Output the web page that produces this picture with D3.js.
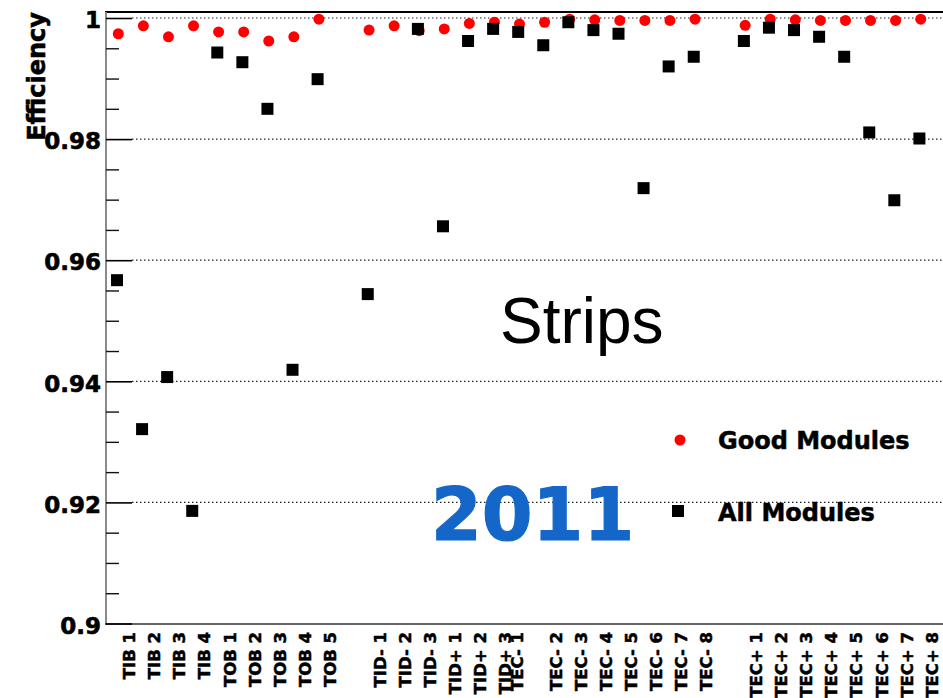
<!DOCTYPE html>
<html>
<head>
<meta charset="utf-8">
<script src="https://cdn.jsdelivr.net/npm/d3@7"></script>
<style>
  html, body { margin: 0; padding: 0; background: #fff; }
  svg { display: block; }
</style>
</head>
<body>
<svg id="chart" width="943" height="698"></svg>
<script>
// Bin labels (null marks an empty separator bin)
const categories = [
  "TIB 1", "TIB 2", "TIB 3", "TIB 4",
  "TOB 1", "TOB 2", "TOB 3", "TOB 4", "TOB 5",
  null,
  "TID- 1", "TID- 2", "TID- 3", "TID+ 1", "TID+ 2", "TID+ 3",
  "TEC- 1", "TEC- 2", "TEC- 3", "TEC- 4", "TEC- 5", "TEC- 6", "TEC- 7", "TEC- 8",
  null,
  "TEC+ 1", "TEC+ 2", "TEC+ 3", "TEC+ 4", "TEC+ 5", "TEC+ 6", "TEC+ 7", "TEC+ 8"
];

// Where each bin label sits along the axis (bin units); TEC- 1 is drawn shifted left
const labelSlots = [
  0, 1, 2, 3,
  4, 5, 6, 7, 8,
  null,
  10, 11, 12, 13, 14, 15,
  15.45, 17, 18, 19, 20, 21, 22, 23,
  null,
  25, 26, 27, 28, 29, 30, 31, 32
];

// Hit efficiency per layer, good modules only
const goodModules = [
  0.9974, 0.9987, 0.9969, 0.9987,
  0.9977, 0.9977, 0.9962, 0.9969, 0.9998,
  null,
  0.9980, 0.9987, 0.9979, 0.9982, 0.9991, 0.9993,
  0.9990, 0.9993, 0.9998, 0.9997, 0.9996, 0.9996, 0.9996, 0.9998,
  null,
  0.9988, 0.9998, 0.9997, 0.9996, 0.9996, 0.9996, 0.9996, 0.9998
];

// Hit efficiency per layer, all modules
const allModules = [
  0.9567, 0.9321, 0.9407, 0.9186,
  0.9943, 0.9927, 0.9850, 0.9419, 0.9899,
  null,
  0.9544, null, 0.9982, 0.9656, 0.9962, 0.9982,
  0.9977, 0.9955, 0.9993, 0.9980, 0.9974, 0.9719, 0.9920, 0.9936,
  null,
  0.9962, 0.9984, 0.9980, 0.9969, 0.9936, 0.9811, 0.9699, 0.9801
];

const yMajorTicks = [0.9, 0.92, 0.94, 0.96, 0.98, 1.0];
const yTickLabels = ["0.9", "0.92", "0.94", "0.96", "0.98", "1"];
const yMinorTicks = d3.range(0, 21).map(i => +(0.9 + i * 0.005).toFixed(3))
  .filter(v => !yMajorTicks.some(m => Math.abs(m - v) < 1e-9));

const seriesNames = ["Good Modules", "All Modules"];

const svg = d3.select("#chart");
const W = 943, H = 698;
const plotLeft = 106, plotRight = W, plotTop = 12, plotBottom = 623.5;

const x = d3.scaleLinear().domain([0, 32]).range([118.3, 920.7]);
const y = d3.scaleLinear().domain([0.9, 1.0]).range([plotBottom, 18]);

const boldFont = "'DejaVu Sans', Verdana, sans-serif";

// Heavier bold text: fill plus a thin matching outline
function heavy(sel, w) {
  return sel.attr("font-family", boldFont)
    .attr("font-weight", "bold")
    .attr("fill", "#000")
    .attr("stroke", "#000")
    .attr("stroke-width", w)
    .attr("stroke-linejoin", "round");
}

// Soft edge for round markers
const defs = svg.append("defs");
defs.append("filter").attr("id", "soft")
  .attr("x", "-50%").attr("y", "-50%").attr("width", "200%").attr("height", "200%")
  .append("feGaussianBlur").attr("stdDeviation", 0.75);

// Dotted gridlines at major ticks
svg.append("g").selectAll("line")
  .data(yMajorTicks.filter(v => v > 0.9))
  .join("line")
  .attr("x1", plotLeft + 26).attr("x2", plotRight)
  .attr("y1", d => y(d)).attr("y2", d => y(d))
  .attr("stroke", "#222").attr("stroke-width", 1.2)
  .attr("stroke-dasharray", "1.5,2.5");

// Frame: top line, left axis, bottom axis
svg.append("line").attr("x1", plotLeft - 1).attr("x2", plotRight)
  .attr("y1", plotTop).attr("y2", plotTop)
  .attr("stroke", "#000").attr("stroke-width", 2.2);
svg.append("line").attr("x1", plotLeft).attr("x2", plotLeft)
  .attr("y1", plotTop).attr("y2", plotBottom + 1)
  .attr("stroke", "#8a8a8a").attr("stroke-width", 2);
svg.append("line").attr("x1", plotLeft - 1).attr("x2", plotRight)
  .attr("y1", plotBottom + 0.5).attr("y2", plotBottom + 0.5)
  .attr("stroke", "#333").attr("stroke-width", 1.6);

// Y axis ticks
const yAxisMajor = d3.axisRight(y).tickValues(yMajorTicks).tickSize(26).tickFormat("");
const gMaj = svg.append("g").attr("transform", `translate(${plotLeft},0)`).call(yAxisMajor);
gMaj.select(".domain").remove();
gMaj.selectAll("line").attr("stroke", "#000").attr("stroke-width", 1.6);

const yAxisMinor = d3.axisRight(y).tickValues(yMinorTicks).tickSize(13).tickFormat("");
const gMin = svg.append("g").attr("transform", `translate(${plotLeft},0)`).call(yAxisMinor);
gMin.select(".domain").remove();
gMin.selectAll("line").attr("stroke", "#111").attr("stroke-width", 1.4);

// Y tick labels
svg.append("g").selectAll("text")
  .data(yMajorTicks)
  .join("text")
  .attr("x", plotLeft - 5)
  .attr("y", d => y(d) + 2)
  .attr("dy", "0.36em")
  .attr("text-anchor", "end")
  .attr("font-size", 23)
  .call(heavy, 0.6)
  .text((d, i) => yTickLabels[i]);

// Y axis title
svg.append("text")
  .attr("transform", "translate(45,12) rotate(-90)")
  .attr("text-anchor", "end")
  .attr("font-size", 24)
  .call(heavy, 0.6)
  .text("Efficiency");

// X bin labels, vertical
const labelData = categories.map((c, i) => ({ c, slot: labelSlots[i] })).filter(d => d.c);
svg.append("g").selectAll("text")
  .data(labelData)
  .join("text")
  .attr("transform", d => `translate(${x(d.slot) + 11},632) rotate(-90)`)
  .attr("dy", "0.36em")
  .attr("text-anchor", "end")
  .attr("font-size", 16.5)
  .call(heavy, 0.5)
  .text(d => d.c);

// Good modules: red circles
const goodPts = goodModules.map((v, i) => ({ i, v })).filter(d => d.v != null);
svg.append("g").attr("filter", "url(#soft)").selectAll("circle")
  .data(goodPts)
  .join("circle")
  .attr("cx", d => x(d.i))
  .attr("cy", d => y(d.v))
  .attr("r", 5.5)
  .attr("fill", "#ff0000");

// All modules: black squares
const sq = 12;
const allPts = allModules.map((v, i) => ({ i, v })).filter(d => d.v != null);
svg.append("g").selectAll("rect")
  .data(allPts)
  .join("rect")
  .attr("x", d => x(d.i) - 1.3 - sq / 2)
  .attr("y", d => y(d.v) - sq / 2)
  .attr("width", sq).attr("height", sq)
  .attr("fill", "#000");

// Annotations
svg.append("text")
  .attr("x", 500).attr("y", 343)
  .attr("font-family", "'Liberation Sans', Arial, sans-serif")
  .attr("font-size", 64)
  .attr("fill", "#000")
  .text("Strips");

svg.append("text")
  .attr("x", 431).attr("y", 540)
  .attr("font-family", boldFont)
  .attr("font-weight", "bold")
  .attr("font-size", 73)
  .attr("fill", "#1467c9")
  .attr("stroke", "#1467c9")
  .attr("stroke-width", 1.2)
  .text("2011");

// Legend
const legend = svg.append("g");
legend.append("circle").attr("cx", 680).attr("cy", 440).attr("r", 5.5)
  .attr("fill", "#ff0000").attr("filter", "url(#soft)");
legend.append("rect").attr("x", 678 - sq / 2).attr("y", 511 - sq / 2)
  .attr("width", sq).attr("height", sq).attr("fill", "#000");
legend.selectAll("text.lbl")
  .data(seriesNames)
  .join("text")
  .attr("class", "lbl")
  .attr("x", 718)
  .attr("y", (d, i) => i === 0 ? 449 : 521)
  .attr("font-size", 24)
  .call(heavy, 0.5)
  .text(d => d);
</script>
</body>
</html>
